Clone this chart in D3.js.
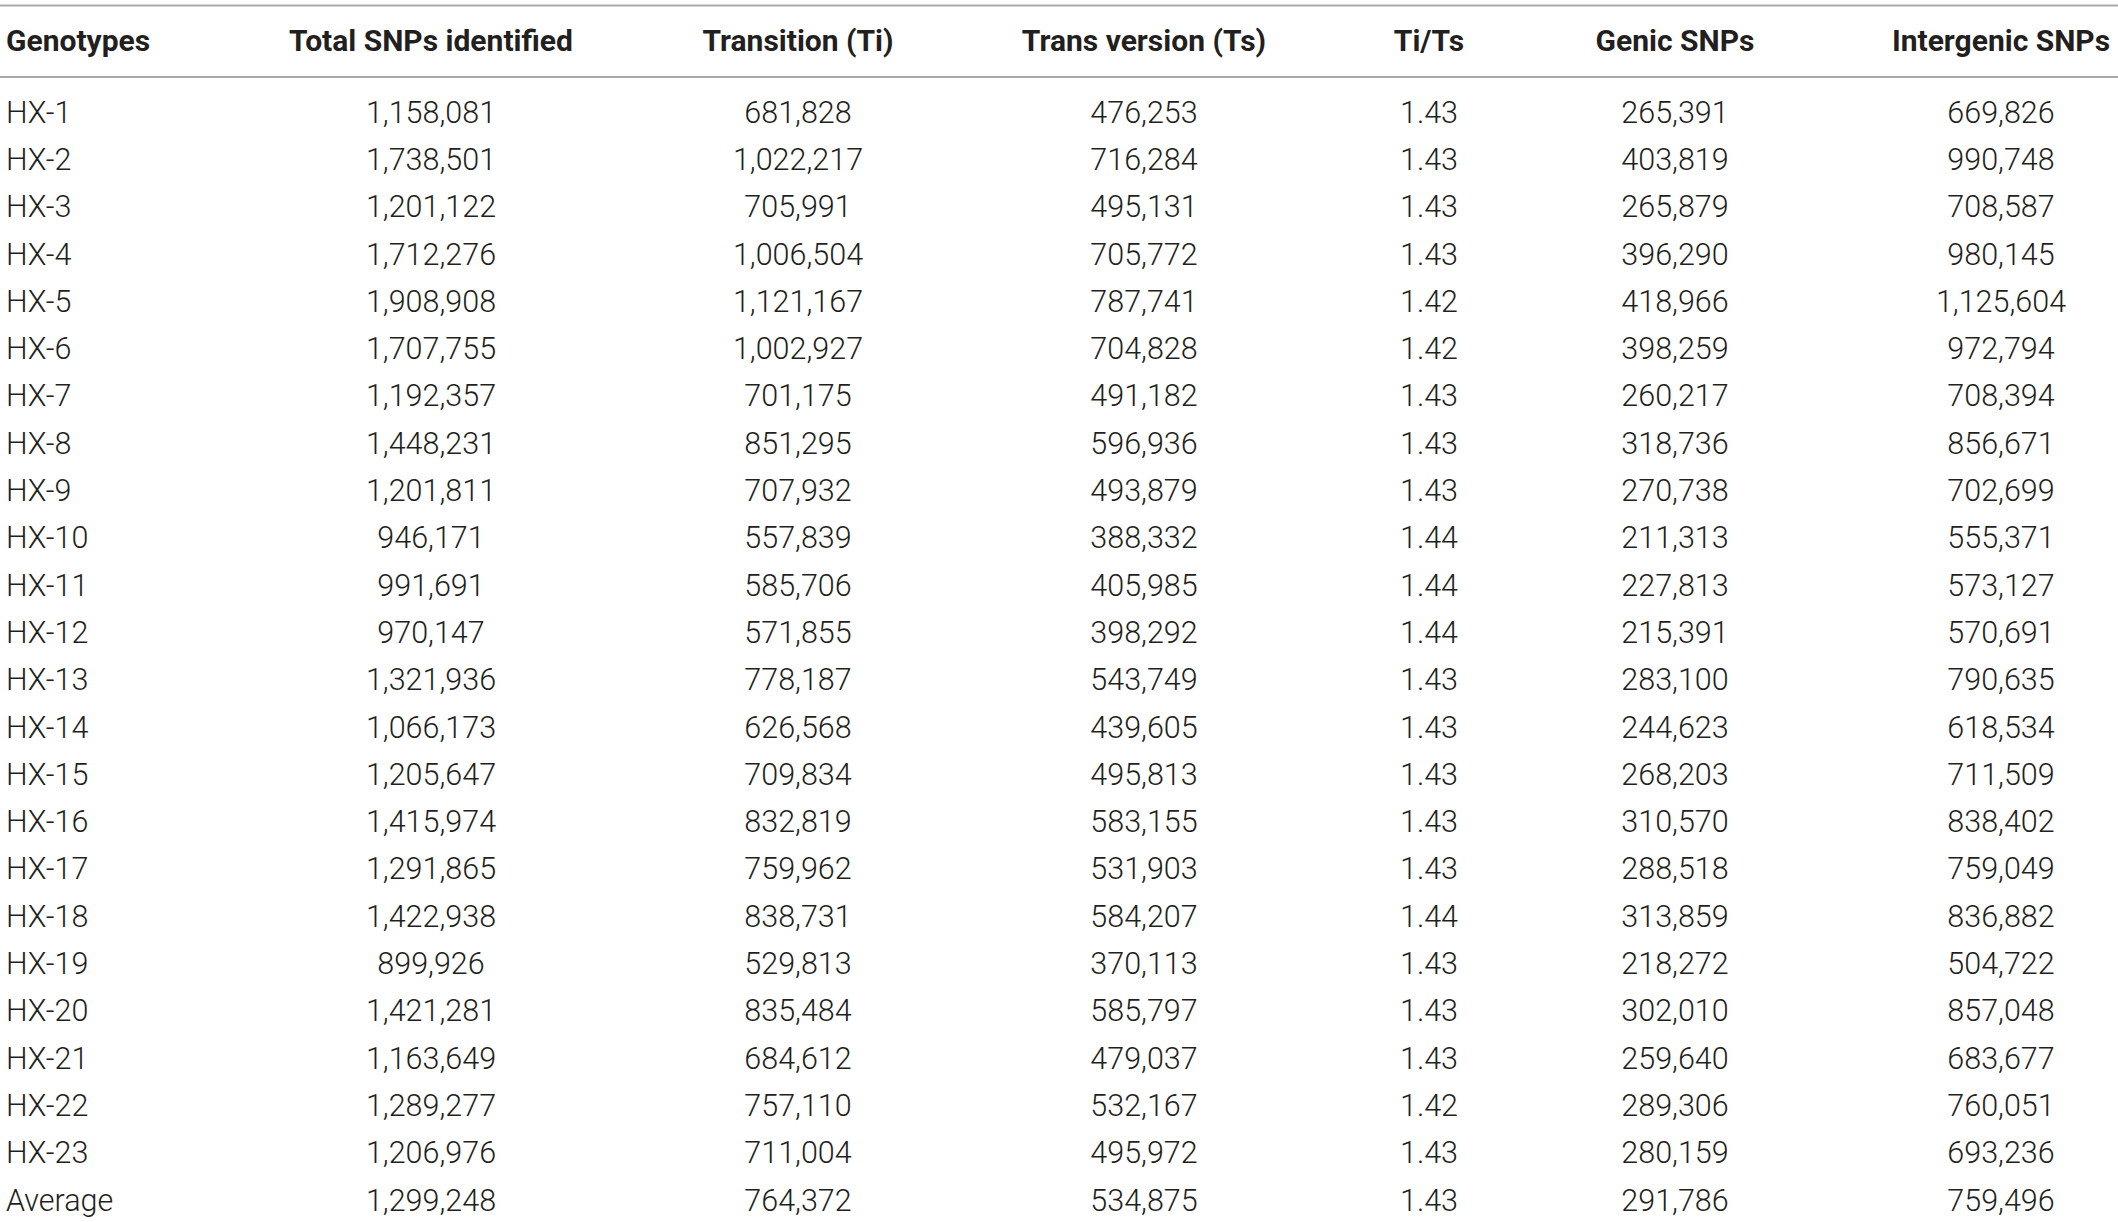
<!DOCTYPE html>
<html>
<head>
<meta charset="utf-8">
<script src="https://cdn.jsdelivr.net/npm/d3@7"></script>
<style>
  html, body { margin: 0; padding: 0; background: #fff; }
  svg text { font-family: Roboto, "Liberation Sans", sans-serif; fill: #231f20; }
</style>
</head>
<body>
<div id="chart"></div>
<script>
// SNP summary per genotype, drawn as a ruled table.
const columns = ["Genotypes", "Total SNPs identified", "Transition (Ti)", "Trans version (Ts)", "Ti/Ts", "Genic SNPs", "Intergenic SNPs"];
const genotypes = ["HX-1", "HX-2", "HX-3", "HX-4", "HX-5", "HX-6", "HX-7", "HX-8", "HX-9", "HX-10", "HX-11", "HX-12",
  "HX-13", "HX-14", "HX-15", "HX-16", "HX-17", "HX-18", "HX-19", "HX-20", "HX-21", "HX-22", "HX-23", "Average"];
const totalSNPs = [1158081, 1738501, 1201122, 1712276, 1908908, 1707755, 1192357, 1448231, 1201811, 946171, 991691, 970147,
  1321936, 1066173, 1205647, 1415974, 1291865, 1422938, 899926, 1421281, 1163649, 1289277, 1206976, 1299248];
const transitions = [681828, 1022217, 705991, 1006504, 1121167, 1002927, 701175, 851295, 707932, 557839, 585706, 571855,
  778187, 626568, 709834, 832819, 759962, 838731, 529813, 835484, 684612, 757110, 711004, 764372];
const transversions = [476253, 716284, 495131, 705772, 787741, 704828, 491182, 596936, 493879, 388332, 405985, 398292,
  543749, 439605, 495813, 583155, 531903, 584207, 370113, 585797, 479037, 532167, 495972, 534875];
const tiTs = [1.43, 1.43, 1.43, 1.43, 1.42, 1.42, 1.43, 1.43, 1.43, 1.44, 1.44, 1.44,
  1.43, 1.43, 1.43, 1.43, 1.43, 1.44, 1.43, 1.43, 1.43, 1.42, 1.43, 1.43];
const genicSNPs = [265391, 403819, 265879, 396290, 418966, 398259, 260217, 318736, 270738, 211313, 227813, 215391,
  283100, 244623, 268203, 310570, 288518, 313859, 218272, 302010, 259640, 289306, 280159, 291786];
const intergenicSNPs = [669826, 990748, 708587, 980145, 1125604, 972794, 708394, 856671, 702699, 555371, 573127, 570691,
  790635, 618534, 711509, 838402, 759049, 836882, 504722, 857048, 683677, 760051, 693236, 759496];

const W = 2118, H = 1222;
const headSize = 30, cellSize = 30.5;
const ruleColor = "#a7a9ac";

const intFmt = d3.format(",");
const ratioFmt = d3.format(".2f");

const rows = genotypes.map((g, i) => [
  g, intFmt(totalSNPs[i]), intFmt(transitions[i]), intFmt(transversions[i]),
  ratioFmt(tiTs[i]), intFmt(genicSNPs[i]), intFmt(intergenicSNPs[i])
]);

// column anchors: first is left edge, the others are centres
const x = d3.scaleOrdinal().domain(columns).range([6, 431, 798, 1144, 1429, 1675, 2001]);
const anchor = c => c === columns[0] ? "start" : "middle";

const headerY = 40, topRule = 5.5, headRule = 77;
const y = d3.scaleBand().domain(genotypes).range([88.5, 88.5 + genotypes.length * 47.3]);

const svg = d3.select("#chart").append("svg")
  .attr("width", W).attr("height", H).attr("viewBox", `0 0 ${W} ${H}`);

svg.append("g").selectAll("line").data([topRule, headRule]).join("line")
  .attr("x1", 0).attr("x2", W).attr("y1", d => d).attr("y2", d => d)
  .attr("stroke", ruleColor).attr("stroke-width", 2);

svg.append("g").selectAll("text").data(columns).join("text")
  .attr("x", d => x(d)).attr("y", headerY)
  .attr("text-anchor", anchor).attr("dominant-baseline", "central")
  .attr("font-size", headSize).attr("font-weight", 700)
  .text(d => d);

const body = svg.append("g");
const tr = body.selectAll("g").data(rows).join("g")
  .attr("transform", (d, i) => `translate(0,${y(genotypes[i]) + y.bandwidth() / 2})`);
tr.selectAll("text").data(d => d.map((v, j) => ({ v, c: columns[j] }))).join("text")
  .attr("x", d => x(d.c)).attr("y", 0)
  .attr("text-anchor", d => anchor(d.c)).attr("dominant-baseline", "central")
  .attr("font-size", cellSize).attr("font-weight", 300)
  .text(d => d.v);
</script>
</body>
</html>
